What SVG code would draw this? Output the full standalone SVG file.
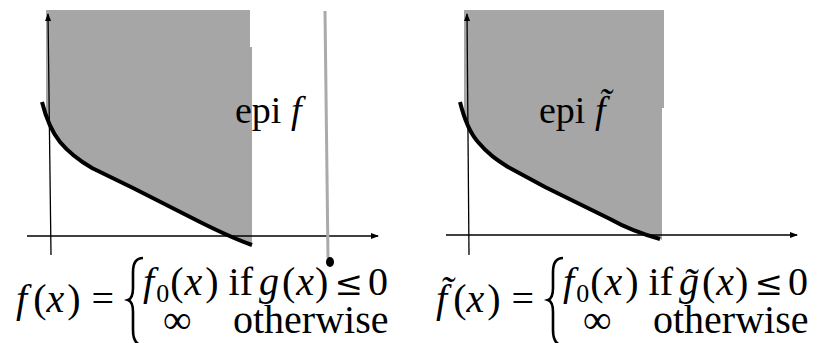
<svg xmlns="http://www.w3.org/2000/svg" width="817" height="343" viewBox="0 0 817 343">
<style>
.region{fill:#a6a6a6;stroke:none}
.axis{stroke:#000;stroke-width:1.3;fill:none}
.curve{stroke:#000;stroke-width:4;fill:none;stroke-linecap:butt}
.lbl{font-family:"Liberation Serif","Times New Roman",serif;font-size:38px;fill:#000}
.eq{font-family:"Liberation Serif","Times New Roman",serif;font-size:40px;fill:#000}
.it{font-style:italic}
.sub{font-size:26px}
.rel{font-family:"DejaVu Serif","Liberation Serif",serif;font-size:34px}
.brace{fill:none;stroke:#000;stroke-width:2.6}
</style>
<defs>
<marker id="arr" markerWidth="8" markerHeight="8" refX="7" refY="4" orient="auto" markerUnits="userSpaceOnUse">
<path d="M0,1 L8,4 L0,7 Z" fill="#000"/>
</marker>
</defs>
<g id="left-panel">
<path class="region" d="M46,10 H250 V47 H252 V245 C232,238 214,229 200,222 L133,188 L92,168 C80,161 70,154 60,142 C53,133 49,125 46,115 Z"/>
<line class="axis" x1="27" y1="236" x2="378" y2="236" marker-end="url(#arr)"/>
<line class="axis" x1="51" y1="255" x2="48" y2="14" marker-end="url(#arr)"/>
<path class="curve" d="M42,102 C46,118 52,132 60,142 C70,154 80,161 92,168 L133,188 L200,222 C214,229 232,238 252,245"/>
<text class="lbl" x="235" y="123">epi <tspan class="it">f</tspan></text>
</g>
<g id="constraint-line">
<line x1="325" y1="11" x2="328" y2="258" stroke="#aaaaaa" stroke-width="3"/>
<ellipse cx="330" cy="262" rx="4" ry="5" fill="#000"/>
</g>
<g id="right-panel">
<path class="region" d="M464,10 H664 V108 H662 V240 L660,239 C642,234 626,228 610,219 L545,187 L508,167 C497,160 488,154 478,142 C471,134 467,125 464,116 Z"/>
<line class="axis" x1="446" y1="235" x2="797" y2="235" marker-end="url(#arr)"/>
<line class="axis" x1="469" y1="255" x2="467" y2="14" marker-end="url(#arr)"/>
<path class="curve" d="M460,102 C464,118 470,133 478,142 C488,154 497,160 508,167 L545,187 L610,219 C626,228 642,234 660,239"/>
<text class="lbl" x="539" y="123">epi <tspan class="it">f&#771;</tspan></text>
</g>
<g id="formula-left">
<text class="eq" x="16" y="312"><tspan class="it">f</tspan><tspan dx="6">(</tspan><tspan class="it">x</tspan><tspan dx="3">)</tspan><tspan dx="11">=</tspan></text>
<path class="brace" d="M143,258 C136,258 133,263 133,272 L133,288 C133,295 131,299 128,300 C131,301 133,305 133,312 L133,330 C133,337 135,343 140,345"/>
<text class="eq" x="143" y="295"><tspan class="it">f</tspan><tspan class="sub" dx="2" dy="7">0</tspan><tspan dx="1" dy="-7">(</tspan><tspan class="it" dx="1">x</tspan><tspan dx="3">)</tspan><tspan dx="10">if</tspan><tspan class="it" dx="6">g</tspan><tspan dx="3">(</tspan><tspan class="it" dx="1">x</tspan><tspan dx="1">)</tspan><tspan class="rel" dx="6">≤</tspan><tspan dx="5">0</tspan></text>
<text class="eq" y="333"><tspan x="163">∞</tspan><tspan x="233">otherwise</tspan></text>
</g>
<g id="formula-right">
<text class="eq" x="436" y="312"><tspan class="it">f&#771;</tspan><tspan dx="6">(</tspan><tspan class="it">x</tspan><tspan dx="3">)</tspan><tspan dx="11">=</tspan></text>
<path class="brace" d="M563,258 C556,258 553,263 553,272 L553,288 C553,295 551,299 548,300 C551,301 553,305 553,312 L553,330 C553,337 555,343 560,345"/>
<text class="eq" x="563" y="295"><tspan class="it">f</tspan><tspan class="sub" dx="2" dy="7">0</tspan><tspan dx="1" dy="-7">(</tspan><tspan class="it" dx="1">x</tspan><tspan dx="3">)</tspan><tspan dx="10">if</tspan><tspan class="it" dx="6">g&#771;</tspan><tspan dx="3">(</tspan><tspan class="it" dx="1">x</tspan><tspan dx="1">)</tspan><tspan class="rel" dx="6">≤</tspan><tspan dx="5">0</tspan></text>
<text class="eq" y="333"><tspan x="583">∞</tspan><tspan x="653">otherwise</tspan></text>
</g>
</svg>
